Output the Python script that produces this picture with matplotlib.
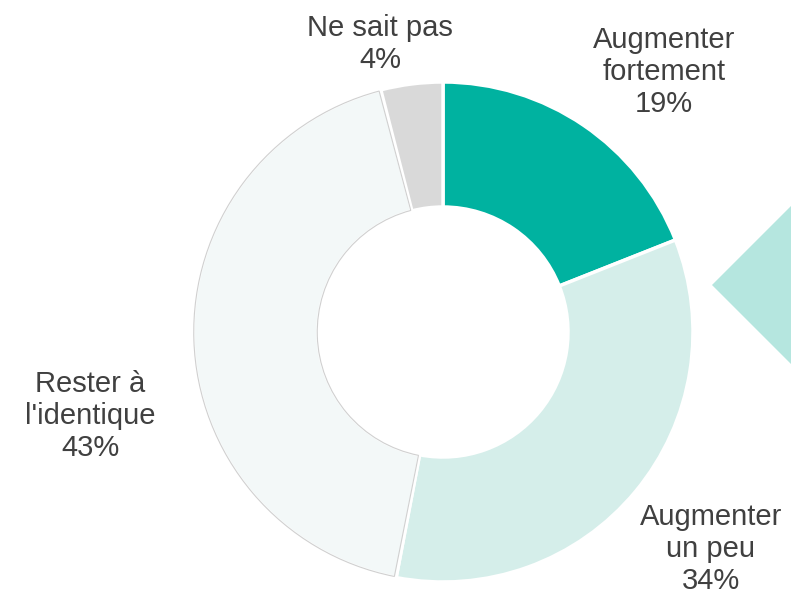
import matplotlib
matplotlib.use("Agg")
import matplotlib.pyplot as plt
from matplotlib.patches import Polygon, Wedge

plt.rcParams['font.family'] = ['Liberation Sans', 'DejaVu Sans']

categories = ["Augmenter\nfortement", "Augmenter\nun peu", "Rester à\nl'identique", "Ne sait pas"]
values = [19, 34, 43, 4]
colors = ["#00B2A0", "#D5EEEA", "#F3F8F8", "#D9D9D9"]

W, H = 791, 595
fig = plt.figure(figsize=(W / 100, H / 100), dpi=100)

# donut axes: centre (443, 332) px, outer radius 250 px
cx, cy, r = 443, 332, 250
ax = fig.add_axes([(cx - r) / W, (H - cy - r) / H, 2 * r / W, 2 * r / H])

wedges, _ = ax.pie(values, colors=colors, startangle=90, counterclock=False,
                   radius=1.0, wedgeprops=dict(width=0.5, edgecolor='white', linewidth=2.5))
ax.set_xlim(-1, 1)
ax.set_ylim(-1, 1)
ax.set_aspect('equal')
ax.axis('off')

# thin grey outline on the palest slice, inset from the white gaps
w = wedges[2]
ax.add_patch(Wedge((0, 0), 0.997, w.theta1 + 0.45, w.theta2 - 0.45, width=0.494,
                   facecolor='none', edgecolor='#D0D0D0', linewidth=0.8))

# decorative arrow shape on the right edge
fig.patches.append(Polygon([(712 / W, 1 - 285 / H), (800 / W, 1 - 197 / H), (800 / W, 1 - 373 / H)],
                           closed=True, transform=fig.transFigure, facecolor='#B5E6DF',
                           edgecolor='none'))

label_pos = [(664, 72), (711, 549), (90, 416), (380, 44)]
for cat, val, (px, py) in zip(categories, values, label_pos):
    fig.text(px / W, 1 - py / H, f"{cat}\n{val}%",
             ha='center', va='center', fontsize=21, color='#404040', linespacing=1.16)

fig.savefig("out.png", dpi=100)
